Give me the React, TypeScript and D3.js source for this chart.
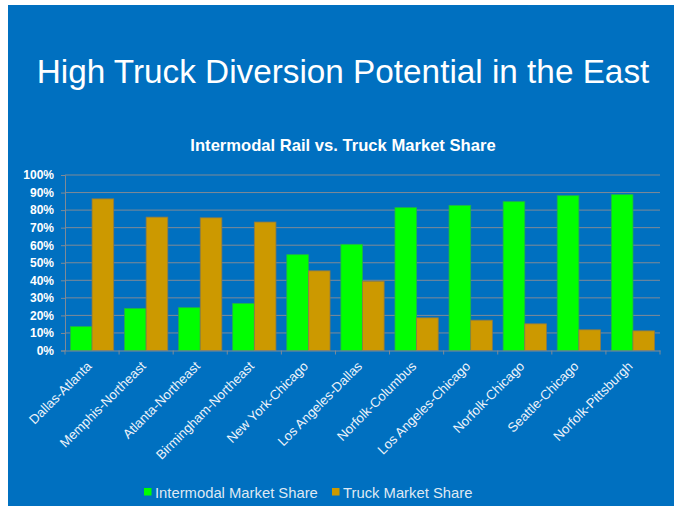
import * as d3 from 'd3';
import React, { useEffect, useRef } from 'react';

const routes = [
  'Dallas-Atlanta',
  'Memphis-Northeast',
  'Atlanta-Northeast',
  'Birmingham-Northeast',
  'New York-Chicago',
  'Los Angeles-Dallas',
  'Norfolk-Columbus',
  'Los Angeles-Chicago',
  'Norfolk-Chicago',
  'Seattle-Chicago',
  'Norfolk-Pittsburgh',
];
const intermodalShare = [0.136, 0.24, 0.244, 0.268, 0.546, 0.605, 0.814, 0.827, 0.848, 0.882, 0.888];
const truckShare = [0.864, 0.76, 0.756, 0.732, 0.454, 0.395, 0.186, 0.173, 0.152, 0.118, 0.112];
const seriesNames = ['Intermodal Market Share', 'Truck Market Share'];
const yTicks = [0, 0.1, 0.2, 0.3, 0.4, 0.5, 0.6, 0.7, 0.8, 0.9, 1];

const W = 674;
const H = 506;
const BLUE = '#0070c0';
const GREEN = '#00ff00';
const GOLD = '#cc9900';
const GRID = '#7f8a96';
const FONT = 'Liberation Sans, Arial, sans-serif';

export default function App() {
  const ref = useRef<SVGSVGElement>(null);

  useEffect(() => {
    const svg = d3.select(ref.current);
    svg.selectAll('*').remove();

    // slide background
    svg.append('rect').attr('width', W).attr('height', H).attr('fill', '#fff');
    svg.append('rect').attr('x', 8).attr('y', 5).attr('width', W - 8).attr('height', H - 5).attr('fill', BLUE);

    svg.append('text')
      .attr('x', 343).attr('y', 82.5)
      .attr('text-anchor', 'middle')
      .attr('fill', '#fff')
      .style('font-family', FONT)
      .style('font-size', '33.3px')
      .text('High Truck Diversion Potential in the East');

    svg.append('text')
      .attr('x', 343).attr('y', 151)
      .attr('text-anchor', 'middle')
      .attr('fill', '#fff')
      .style('font-family', FONT)
      .style('font-weight', 'bold')
      .style('font-size', '16.6px')
      .text('Intermodal Rail vs. Truck Market Share');

    const x = d3.scaleBand().domain(routes).range([65, 660]).paddingInner(0).paddingOuter(0);
    const xSub = d3.scaleBand().domain(['im', 'tr']).range([0, x.bandwidth()]).paddingInner(0).paddingOuter(0.25);
    const y = d3.scaleLinear().domain([0, 1]).range([350.5, 175]);

    // gridlines
    svg.append('g')
      .selectAll('line')
      .data(yTicks.slice(1))
      .enter()
      .append('line')
      .attr('x1', 65).attr('x2', 660)
      .attr('y1', d => y(d)).attr('y2', d => y(d))
      .attr('stroke', GRID).attr('stroke-width', 1);

    // y axis
    const yAxis = svg.append('g')
      .attr('transform', 'translate(65,0)')
      .call(d3.axisLeft(y).tickValues(yTicks).tickSize(4).tickFormat(d3.format('.0%')));
    yAxis.select('.domain').attr('stroke', GRID);
    yAxis.selectAll('.tick line').attr('stroke', GRID);
    yAxis.selectAll('.tick text')
      .attr('x', -11)
      .attr('fill', '#fff')
      .style('font-family', FONT)
      .style('font-weight', 'bold')
      .style('font-size', '12px');

    // bars
    const groups = svg.append('g')
      .selectAll('g')
      .data(routes)
      .enter()
      .append('g')
      .attr('transform', d => 'translate(' + x(d) + ',0)');

    groups.append('rect')
      .attr('x', xSub('im')!)
      .attr('width', xSub.bandwidth())
      .attr('y', (d, i) => y(intermodalShare[i]))
      .attr('height', (d, i) => y(0) - y(intermodalShare[i]))
      .attr('fill', GREEN)
      .attr('stroke', '#22b04a')
      .attr('stroke-width', 0.8);

    groups.append('rect')
      .attr('x', xSub('tr')!)
      .attr('width', xSub.bandwidth())
      .attr('y', (d, i) => y(truckShare[i]))
      .attr('height', (d, i) => y(0) - y(truckShare[i]))
      .attr('fill', GOLD)
      .attr('stroke', '#8c7a4a')
      .attr('stroke-width', 0.8);

    // x axis
    const xAxis = svg.append('g')
      .attr('transform', 'translate(0,' + y(0) + ')')
      .call(d3.axisBottom(x).tickSize(0).tickFormat(() => ''));
    xAxis.select('.domain').attr('stroke', GRID);
    xAxis.selectAll('.tick').remove();

    const bounds = routes.map(r => x(r)!).concat([660]);
    xAxis.selectAll('line.sep')
      .data(bounds)
      .enter()
      .append('line')
      .attr('class', 'sep')
      .attr('x1', d => d).attr('x2', d => d)
      .attr('y1', 0).attr('y2', 4)
      .attr('stroke', GRID);

    svg.append('g')
      .selectAll('text')
      .data(routes)
      .enter()
      .append('text')
      .attr('transform', d => 'translate(' + (x(d)! + x.bandwidth() / 2 + 0.5) + ',367) rotate(-45)')
      .attr('text-anchor', 'end')
      .attr('fill', '#eef3fa')
      .style('font-family', FONT)
      .style('font-size', '13.2px')
      .text(d => d);

    // legend
    const legendX = [144, 332];
    const legend = svg.append('g')
      .selectAll('g')
      .data(seriesNames)
      .enter()
      .append('g')
      .attr('transform', (d, i) => 'translate(' + legendX[i] + ',488)');
    legend.append('rect')
      .attr('width', 7.5).attr('height', 7.5)
      .attr('fill', (d, i) => (i === 0 ? GREEN : GOLD));
    legend.append('text')
      .attr('x', 11).attr('y', 10)
      .attr('fill', '#dfe8f3')
      .style('font-family', FONT)
      .style('font-size', '14.8px')
      .text(d => d);
  }, []);

  return (
    <svg
      ref={ref}
      width={W}
      height={H}
      style={{ position: 'absolute', left: 0, top: 0, display: 'block' }}
    />
  );
}
